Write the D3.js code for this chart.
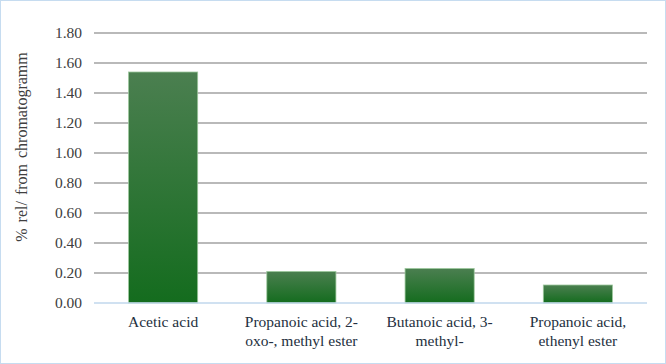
<!DOCTYPE html>
<html><head><meta charset="utf-8">
<script src="https://d3js.org/d3.v7.min.js"></script>
<style>body{margin:0;background:#fff}svg{display:block}</style>
</head><body>
<script>
const categories = [["Acetic acid"], ["Propanoic acid, 2-", "oxo-, methyl ester"], ["Butanoic acid, 3-", "methyl-"], ["Propanoic acid,", "ethenyl ester"]];
const values = [1.54, 0.21, 0.23, 0.12];
const yTicks = [0, 0.2, 0.4, 0.6, 0.8, 1.0, 1.2, 1.4, 1.6, 1.8];
const yTitle = "% rel/ from chromatogramm";

const FONT = "'Liberation Serif'";
const W = 666, H = 364;
const m = {l: 94, r: 19, t: 33, b: 61};
const svg = d3.select("body").append("svg").attr("width", W).attr("height", H);
svg.append("rect").attr("x", 0.5).attr("y", 0.5).attr("width", W - 1).attr("height", H - 1)
  .attr("fill", "#fff").attr("stroke", "#c6dcf0");

const defs = svg.append("defs");
const g1 = defs.append("linearGradient").attr("id", "gr").attr("x1", 0).attr("y1", 0).attr("x2", 0).attr("y2", 1);
g1.append("stop").attr("offset", "0%").attr("stop-color", "#4b7f50");
g1.append("stop").attr("offset", "100%").attr("stop-color", "#146c1e");

const x = d3.scaleBand().domain(d3.range(values.length)).range([m.l, W - m.r]).paddingInner(0.5).paddingOuter(0.25);
const y = d3.scaleLinear().domain([0, 1.8]).range([H - m.b, m.t]);

const grid = svg.append("g");
grid.selectAll("line").data(yTicks.filter(d => d > 0)).join("line")
  .attr("x1", m.l).attr("x2", W - m.r).attr("y1", d => y(d)).attr("y2", d => y(d))
  .attr("stroke", "#a2a2a2").attr("stroke-width", 1.3);

svg.append("g").selectAll("rect").data(values).join("rect")
  .attr("x", (d, i) => x(i)).attr("width", x.bandwidth())
  .attr("y", d => y(d)).attr("height", d => y(0) - y(d))
  .attr("fill", "url(#gr)").attr("stroke", "#9cc79c").attr("stroke-width", 0.8);

svg.append("line").attr("x1", m.l).attr("x2", W - m.r).attr("y1", y(0)).attr("y2", y(0))
  .attr("stroke", "#c0d7ec").attr("stroke-width", 1.3);

svg.append("g").selectAll("text").data(yTicks).join("text")
  .attr("x", 82).attr("y", d => y(d)).attr("dy", "0.35em").attr("text-anchor", "end")
  .style("font-family", FONT).style("font-size", "15.5px").attr("fill", "#404040")
  .text(d => d.toFixed(2));

const lab = svg.append("g").selectAll("text").data(categories).join("text")
  .attr("text-anchor", "middle").style("font-family", FONT).style("font-size", "15.5px").attr("fill", "#243040");
lab.each(function(lines, i) {
  const t = d3.select(this);
  lines.forEach((s, k) => t.append("tspan").attr("x", x(i) + x.bandwidth() / 2).attr("y", 327 + k * 18.5).text(s));
});

svg.append("text").attr("transform", `translate(27,147) rotate(-90)`)
  .attr("text-anchor", "middle").style("font-family", FONT).style("font-size", "16px").style("word-spacing", "2px").attr("fill", "#404040")
  .text(yTitle);
</script>
</body></html>
